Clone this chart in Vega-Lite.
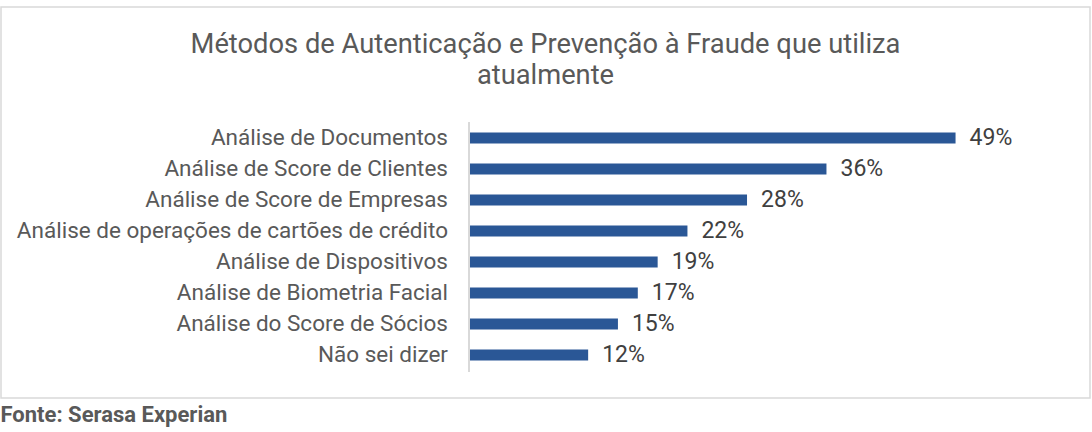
{
  "$schema": "https://vega.github.io/schema/vega-lite/v6.json",
  "autosize": "none",
  "width": 1089,
  "height": 391,
  "padding": {"left": 1, "top": 7, "right": 2, "bottom": 34},
  "background": "white",
  "title": {
    "text": ["Métodos de Autenticação e Prevenção à Fraude que utiliza", "atualmente"],
    "anchor": "middle",
    "frame": "group",
    "font": "Roboto",
    "fontSize": 27.3,
    "fontWeight": "normal",
    "color": "#595959",
    "lineHeight": 31,
    "baseline": "middle",
    "offset": 0,
    "dy": 96
  },
  "data": {
    "values": [
      {"metodo": "Análise de Documentos", "pct": 0.49, "ordem": 1},
      {"metodo": "Análise de Score de Clientes", "pct": 0.36, "ordem": 2},
      {"metodo": "Análise de Score de Empresas", "pct": 0.28, "ordem": 3},
      {"metodo": "Análise de operações de cartões de crédito", "pct": 0.22, "ordem": 4},
      {"metodo": "Análise de Dispositivos", "pct": 0.19, "ordem": 5},
      {"metodo": "Análise de Biometria Facial", "pct": 0.17, "ordem": 6},
      {"metodo": "Análise do Score de Sócios", "pct": 0.15, "ordem": 7},
      {"metodo": "Não sei dizer", "pct": 0.12, "ordem": 8}
    ]
  },
  "layer": [
    {
      "mark": {"type": "rule", "strokeWidth": 11, "strokeCap": "butt", "color": "#2a5796"},
      "encoding": {
        "x": {
          "field": "pct",
          "type": "quantitative",
          "scale": {"domain": [-0.4713, 0.6254], "nice": false, "zero": false},
          "axis": {
            "domain": false,
            "ticks": false,
            "labels": false,
            "grid": false,
            "title": "Fonte: Serasa Experian",
            "titleFont": "Roboto",
            "titleFontSize": 22,
            "titleFontWeight": "bold",
            "titleColor": "#595959",
            "titleAnchor": "start",
            "titleAlign": "left",
            "titleBaseline": "middle",
            "titleX": -1,
            "titleY": 16
          }
        },
        "x2": {"datum": 0},
        "y": {
          "field": "ordem",
          "type": "quantitative",
          "scale": {"domain": [-3.226, 9.387], "nice": false, "zero": false, "reverse": true},
          "axis": null
        }
      }
    },
    {
      "mark": {"type": "rule", "color": "#d9d9d9", "strokeWidth": 1.5},
      "encoding": {
        "x": {"datum": 0},
        "y": {"datum": 0.5},
        "y2": {"datum": 8.55}
      }
    },
    {
      "mark": {"type": "text", "align": "right", "baseline": "middle", "dx": -21, "font": "Roboto", "fontSize": 22.5, "color": "#595959"},
      "encoding": {
        "x": {"datum": 0},
        "y": {"field": "ordem", "type": "quantitative"},
        "text": {"field": "metodo", "type": "nominal"}
      }
    },
    {
      "mark": {"type": "text", "align": "left", "baseline": "middle", "dx": 14, "font": "Roboto", "fontSize": 23, "color": "#404040"},
      "encoding": {
        "x": {"field": "pct", "type": "quantitative"},
        "y": {"field": "ordem", "type": "quantitative"},
        "text": {"field": "pct", "type": "quantitative", "format": ".0%"}
      }
    }
  ],
  "config": {
    "view": {"stroke": "#d9d9d9", "strokeWidth": 1.5}
  }
}
